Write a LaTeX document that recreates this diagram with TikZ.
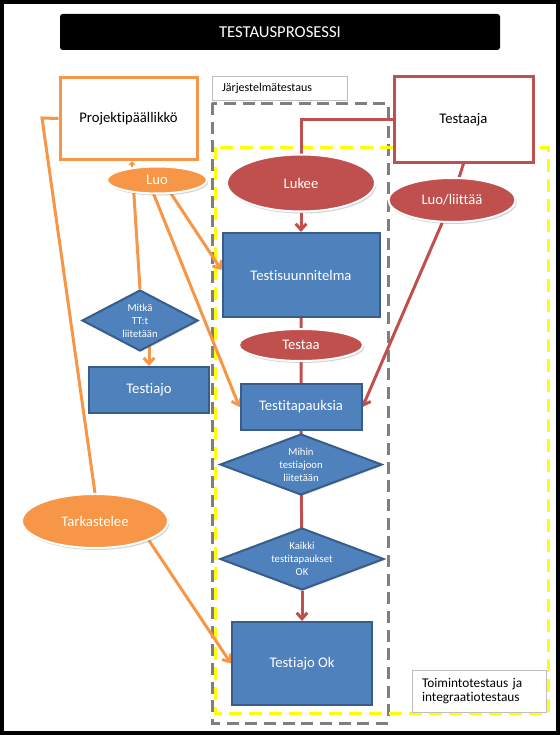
\documentclass[tikz,border=0pt]{standalone}
\usepackage{fontspec}
\setmainfont{Carlito}[Ligatures=NoCommon]
\usetikzlibrary{shapes.geometric,arrows.meta,shadows,backgrounds}

\definecolor{pmorange}{HTML}{F79646}
\definecolor{testred}{HTML}{C0504D}
\definecolor{stepblue}{HTML}{4F81BD}
\definecolor{stepedge}{HTML}{385D8A}
\definecolor{areagray}{HTML}{7F7F7F}
\definecolor{areayellow}{HTML}{FFFF00}

\begin{document}
\begin{tikzpicture}[x=0.75pt, y=-0.75pt]

        % Page is measured in pixels, y runs downwards
        \useasboundingbox (0,0) rectangle (560,735);

        \tikzset{
            labeltext/.style={font=\fontsize{11}{13}\selectfont},
            actor/.style={labeltext, rectangle, line width=2.25pt,
                fill=white, inner sep=0pt},
            action/.style={labeltext, ellipse, draw=white, line width=1.5pt,
                text=white, inner sep=0pt,
                drop shadow={shadow xshift=1pt, shadow yshift=-1.5pt, opacity=0.35}},
            stepbox/.style={labeltext, rectangle, draw=stepedge, line width=1.5pt,
                fill=stepblue, text=white, inner sep=0pt,
                drop shadow={shadow xshift=1pt, shadow yshift=-1pt, opacity=0.25}},
            choice/.style={diamond, draw=stepedge, line width=1.5pt,
                fill=stepblue, text=white, inner sep=0pt, align=center,
                font=\fontsize{8}{9.8}\selectfont,
                drop shadow={shadow xshift=1pt, shadow yshift=-1pt, opacity=0.25}},
            areatag/.style={rectangle, draw=black!25, line width=0.75pt,
                fill=white, inner xsep=7.5pt, inner ysep=0pt, align=left},
            orangeline/.style={draw=pmorange, line width=2.25pt},
            redline/.style={draw=testred, line width=2.25pt},
            arrowed/.style={-{Straight Barb[length=4.5pt, width=8pt]}},
        }

        % Outer frame and title
        \draw [line width=3pt] (2,2) rectangle (558,733);
        \node [fill=black, rounded corners=2pt, text=white,
            minimum width=330pt, minimum height=27pt,
            font=\fontsize{12.5}{15}\selectfont] (title) at (280,32) {TESTAUSPROSESSI};

        % Actors
        \node [actor, draw=pmorange, minimum width=102.75pt, minimum height=61.5pt]
            (pm) at (128.5,118.5) {Projektipäällikkö};
        \node [actor, draw=testred, minimum width=104.25pt, minimum height=63.75pt]
            (tester) at (463.5,119.5) {Testaaja};

        % Actions
        \node [action, fill=pmorange, minimum width=75pt, minimum height=20.25pt]
            (creates) at (157,180) {Luo};
        \node [action, fill=testred, minimum width=111pt, minimum height=42.75pt]
            (reads) at (301,183) {Lukee};
        \node [action, fill=testred, minimum width=95.25pt, minimum height=33pt]
            (attaches) at (452,200) {Luo/liittää};
        \node [action, fill=testred, minimum width=93pt, minimum height=24pt]
            (tests) at (301,345) {Testaa};
        \node [action, fill=pmorange, minimum width=109.5pt, minimum height=40.5pt]
            (reviews) at (95,521) {Tarkastelee};

        % Process steps
        \node [stepbox, minimum width=117.75pt, minimum height=63pt]
            (plan) at (301,275) {Testisuunnitelma};
        \node [choice, aspect=1.9, minimum width=87pt, minimum height=45.75pt]
            (choose) at (140,320.5) {Mitkä\\TT:t\\liitetään};
        \node [stepbox, minimum width=90pt, minimum height=34.5pt]
            (run) at (149,390) {Testiajo};
        \node [stepbox, minimum width=90.75pt, minimum height=34.5pt]
            (cases) at (301,407) {Testitapauksia};
        \node [choice, aspect=2.65, minimum width=121.5pt, minimum height=45.75pt]
            (which) at (301,464.5) {Mihin\\testiajoon\\liitetään};
        \node [choice, aspect=2.65, minimum width=123pt, minimum height=46.5pt]
            (allok) at (302,559) {Kaikki\\testitapaukset\\OK};
        \node [stepbox, minimum width=105pt, minimum height=62.25pt]
            (runok) at (302,663.5) {Testiajo Ok};

        % Area labels
        \node [areatag, text width=86.25pt, minimum height=17.25pt,
            font=\fontsize{9}{11}\selectfont]
            (systag) at (279.5,88.5) {Järjestelmätestaus};
        \node [areatag, text width=85.5pt, minimum height=31.5pt,
            font=\fontsize{10}{10.5}\selectfont]
            (functag) at (479,691) {Toimintotestaus ja\\integraatiotestaus};

        \coordinate (pmbend) at (42,118);

        \begin{pgfonlayer}{background}
            % Testing areas
            \draw [areagray, line width=2.25pt, dash pattern=on 9pt off 5pt]
                (212,103) rectangle (388,723);
            \draw [areayellow, line width=2.25pt, dash pattern=on 10pt off 5pt]
                (215,147) rectangle (548,713);

            % Project manager
            \draw [orangeline, line width=1.5pt, -{Triangle[length=3pt, width=5pt]}]
                (creates.center -| 132,0) -- (pm.south -| 132,0);
            \draw [orangeline] (creates.center -| 133,0) -- (choose.north);
            \draw [orangeline, arrowed] (creates.center -| 148,0) -- (cases.west);
            \draw [orangeline, arrowed] (creates.center -| 162,0) -- (plan.west |- 0,270);
            \draw [orangeline, arrowed] (run.north |- choose.center) -- (run.north);
            \draw [orangeline] (pm.west) -- (pmbend) -- (reviews.north);
            \draw [orangeline, arrowed] (reviews.center -| 136,0) -- (runok.west);

            % Tester
            \draw [redline] (tester.west) -| (reads.north);
            \draw [redline, arrowed] (reads.south) -- (plan.north);
            \draw [redline] (attaches.center) -- (tester.south);
            \draw [redline, arrowed] (attaches.center) -- (cases.east);

            % Main flow
            \draw [redline] (plan.center) -- (tests.center) -- (cases.center)
                -- (which.center) -- (allok.center);
            \draw [redline, arrowed] (allok.south) -- (runok.north);
        \end{pgfonlayer}
\end{tikzpicture}
\end{document}
